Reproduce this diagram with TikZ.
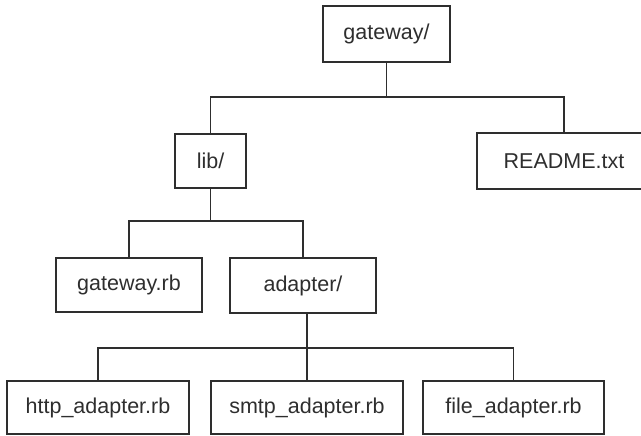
\documentclass[tikz,border=0pt]{standalone}
\usepackage{fontspec}
\setmainfont{Liberation Sans}
\definecolor{ink}{HTML}{2E2E2E}
\begin{document}
\begin{tikzpicture}[x=1pt,y=-1pt,
  box/.style={draw=ink,line width=1.3pt,rectangle,inner sep=0pt,text=ink,font=\fontsize{21.5}{24}\selectfont},
  link/.style={draw=ink,line width=1.3pt}]
\useasboundingbox (0,0) rectangle (641,436);
\clip (0,0) rectangle (641,436);
\node[box,minimum width=127pt,minimum height=56pt] (gw) at (386.5,34) {gateway/};
\node[box,minimum width=71pt,minimum height=54pt] (lib) at (210.5,161) {lib/};
\node[box,minimum width=174pt,minimum height=56pt] (readme) at (564,161) {README.txt};
\node[box,minimum width=146pt,minimum height=54pt] (grb) at (129,285) {gateway.rb};
\node[box,minimum width=146pt,minimum height=55pt] (adp) at (303,285.5) {adapter/};
\node[box,minimum width=182pt,minimum height=53pt] (http) at (98,407.5) {http\_adapter.rb};
\node[box,minimum width=192pt,minimum height=53pt] (smtp) at (307,407.5) {smtp\_adapter.rb};
\node[box,minimum width=181pt,minimum height=53pt] (file) at (513.5,407.5) {file\_adapter.rb};
\coordinate (j1) at (0,97);
\coordinate (j2) at (0,221);
\coordinate (j3) at (0,348);
\draw[link] (gw.south) -- (gw.south |- j1);
\draw[link] (lib.north) -- (lib.north |- j1) -- (readme.north |- j1) -- (readme.north);
\draw[link] (lib.south) -- (lib.south |- j2);
\draw[link] (grb.north) -- (grb.north |- j2) -- (adp.north |- j2) -- (adp.north);
\draw[link] (smtp.north) -- (smtp.north |- adp.south);
\draw[link] (http.north) -- (http.north |- j3) -- (file.north |- j3) -- (file.north);
\end{tikzpicture}
\end{document}
